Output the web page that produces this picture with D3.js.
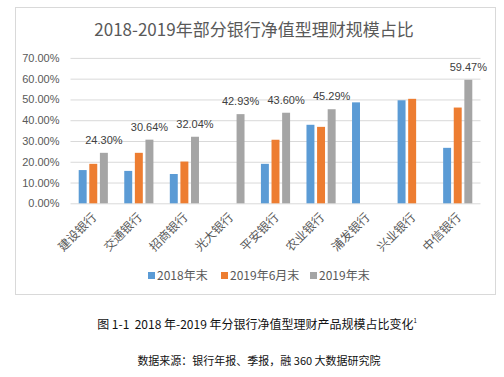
<!DOCTYPE html>
<html>
<head>
<meta charset="utf-8">
<script src="https://cdn.jsdelivr.net/npm/d3@7"></script>
<style>
  body { margin: 0; background: #fff; }
  svg text { font-family: "Liberation Sans", "Noto Sans CJK SC", sans-serif; }
</style>
</head>
<body>
<div id="chartDiv"></div>
<script>
const banks = ["建设银行", "交通银行", "招商银行", "光大银行", "平安银行", "农业银行", "浦发银行", "兴业银行", "中信银行"];
const seriesNames = ["2018年末", "2019年6月末", "2019年末"];
const end2018 = [0.160, 0.156, 0.141, null, 0.190, 0.378, 0.486, 0.496, 0.267];
const mid2019 = [0.190, 0.243, 0.201, null, 0.306, 0.368, null, 0.503, 0.461];
const end2019 = [0.2430, 0.3064, 0.3204, 0.4293, 0.4360, 0.4529, null, null, 0.5947];
const yTicks = [0, 0.1, 0.2, 0.3, 0.4, 0.5, 0.6, 0.7];
const seriesColors = ["#5b9bd5", "#ed7d31", "#a5a5a5"];

const W = 504, H = 377;
const plotLeft = 70.5, plotRight = 480.5, plotTop = 57.9, plotBottom = 203.3;

const svg = d3.select("#chartDiv").append("svg")
    .attr("width", W)
    .attr("height", H)

// chart frame
svg.append("rect")
    .attr("x", 15.5).attr("y", 7.5)
    .attr("width", 480).attr("height", 287)
    .attr("fill", "#fff")
    .attr("stroke", "#d9d9d9")

svg.append("text")
    .attr("x", 254).attr("y", 36)
    .attr("text-anchor", "middle")
    .attr("fill", "#595959")
    .style("font-family", "'Noto Sans CJK SC', sans-serif")
    .style("font-size", "17px")
    .text("2018-2019年部分银行净值型理财规模占比")

const x = d3.scaleBand()
    .domain(banks)
    .range([plotLeft, plotRight]);

const xSub = d3.scaleBand()
    .domain(seriesNames)
    .range([x.bandwidth() * 0.18, x.bandwidth() * 0.82])
    .paddingInner(0.25);

const y = d3.scaleLinear()
    .domain([0, 0.7])
    .range([plotBottom, plotTop]);

// gridlines + y labels
const yAxis = svg.append("g")
    .attr("transform", "translate(" + plotLeft + ",0)")
    .call(d3.axisLeft(y).tickValues(yTicks).tickFormat(d3.format(".2%")).tickSize(-(plotRight - plotLeft)).tickPadding(11))
yAxis.select(".domain").remove()
yAxis.selectAll("line").attr("stroke", "#d9d9d9")
yAxis.selectAll("text")
    .attr("fill", "#595959")
    .style("font-size", "11px")

const table = banks.map((b, i) => ({ bank: b, values: [end2018[i], mid2019[i], end2019[i]] }));

const groups = svg.selectAll(".group")
    .data(table)
    .enter()
    .append("g")
    .attr("class", "group")
    .attr("transform", d => "translate(" + x(d.bank) + ",0)")

groups.selectAll("rect")
    .data(d => d.values.map((v, j) => ({ name: seriesNames[j], v: v, j: j })).filter(e => e.v != null))
    .enter()
    .append("rect")
    .attr("x", d => xSub(d.name))
    .attr("y", d => y(d.v))
    .attr("width", xSub.bandwidth())
    .attr("height", d => plotBottom - y(d.v))
    .attr("fill", d => seriesColors[d.j])

// labels on the 2019年末 bars
groups.filter(d => d.values[2] != null)
    .append("text")
    .attr("x", xSub(seriesNames[2]) + xSub.bandwidth() / 2)
    .attr("y", d => y(d.values[2]) - 9)
    .attr("text-anchor", "middle")
    .attr("fill", "#404040")
    .style("font-size", "11px")
    .text(d => d3.format(".2%")(d.values[2]))

// x category labels
svg.append("g")
    .selectAll("text")
    .data(banks)
    .enter()
    .append("text")
    .attr("transform", d => "translate(" + (x(d) + x.bandwidth() / 2 + 4) + ",218) rotate(-45)")
    .attr("text-anchor", "end")
    .attr("fill", "#595959")
    .style("font-family", "'Noto Sans CJK SC', sans-serif")
    .style("font-size", "12px")
    .text(d => d)

// legend
const legendX = [148, 221, 310];
const legend = svg.append("g")
legend.selectAll("rect")
    .data(seriesNames)
    .enter()
    .append("rect")
    .attr("x", (d, i) => legendX[i])
    .attr("y", 272)
    .attr("width", 7).attr("height", 7)
    .attr("fill", (d, i) => seriesColors[i])
legend.selectAll("text")
    .data(seriesNames)
    .enter()
    .append("text")
    .attr("x", (d, i) => legendX[i] + 9)
    .attr("y", 280)
    .attr("fill", "#595959")
    .style("font-family", "'Noto Sans CJK SC', sans-serif")
    .style("font-size", "12px")
    .text(d => d)

// caption and source
const caption = svg.append("text")
    .attr("x", 257).attr("y", 329)
    .attr("text-anchor", "middle")
    .attr("fill", "#111")
    .style("white-space", "pre")
    .style("font-family", "'Noto Sans CJK SC', sans-serif")
    .style("font-size", "12px")
caption.append("tspan").text("图 1-1  2018 年-2019 年分银行净值型理财产品规模占比变化")
caption.append("tspan").attr("dy", -6).style("font-size", "6px").text("1")

svg.append("text")
    .attr("x", 259).attr("y", 365)
    .attr("text-anchor", "middle")
    .attr("fill", "#111")
    .style("font-family", "'Noto Sans CJK SC', sans-serif")
    .style("font-size", "11px")
    .text("数据来源：银行年报、季报，融 360 大数据研究院")
</script>
</body>
</html>
